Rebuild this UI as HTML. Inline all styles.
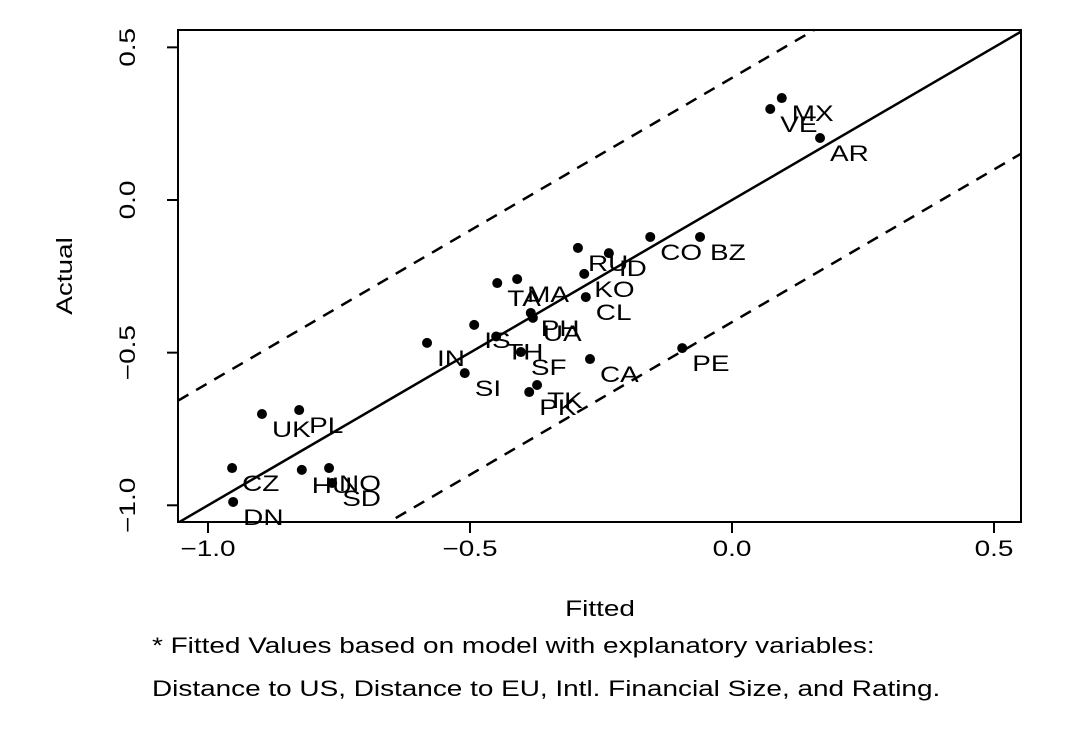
<!DOCTYPE html>
<html><head><meta charset="utf-8"><style>
body{margin:0;background:#fff}
svg{display:block;font-family:"Liberation Sans",Arial,sans-serif}
</style></head><body>
<svg id="chart" width="1084" height="732"></svg>
<script>
const countries=["MX","VE","AR","BZ","CO","RU","ID","KO","CL","TA","MA","PH","UA","IS","IN","TH","SF","SI","TK","PK","CA","PE","UK","PL","CZ","DN","HU","NO","SD"];
const fitted=[0.095,0.073,0.168,-0.061,-0.156,-0.294,-0.235,-0.282,-0.279,-0.448,-0.410,-0.384,-0.380,-0.492,-0.582,-0.450,-0.403,-0.510,-0.372,-0.387,-0.271,-0.095,-0.897,-0.826,-0.954,-0.952,-0.821,-0.769,-0.763];
const actual=[0.334,0.298,0.203,-0.121,-0.121,-0.157,-0.174,-0.242,-0.318,-0.272,-0.259,-0.370,-0.386,-0.409,-0.468,-0.447,-0.498,-0.567,-0.606,-0.629,-0.521,-0.485,-0.701,-0.688,-0.878,-0.989,-0.884,-0.878,-0.927];
const xTicks=[-1.0,-0.5,0.0,0.5];
const yTicks=[-1.0,-0.5,0.0,0.5];
const band=[0.4];

const NS="http://www.w3.org/2000/svg";
const svg=document.getElementById('chart');
const L=178,R=1021,T=30,B=522;
const SX=1.27;
const X=v=>732+v*524;
const Y=v=>200-v*305.3;
const xmin=(L-732)/524,xmax=(R-732)/524;
function mk(tag,attrs,parent){const e=document.createElementNS(NS,tag);for(const k in attrs)e.setAttribute(k,attrs[k]);(parent||svg).appendChild(e);return e;}

const defs=mk('defs',{});
const cp=mk('clipPath',{id:'clip'},defs);
mk('rect',{x:L,y:T,width:R-L,height:B-T},cp);

const box=mk('rect',{x:L,y:T,width:R-L,height:B-T,fill:'none',stroke:'#000','stroke-width':2});



const g=mk('g',{'clip-path':'url(#clip)'});
const fit=mk('line',{x1:X(xmin),y1:Y(xmin),x2:X(xmax),y2:Y(xmax),stroke:'#000','stroke-width':2.5},g);


[band[0],-band[0]].forEach((o,i)=>{
  const d=mk('line',{x1:X(xmin),y1:Y(xmin+o),x2:X(xmax),y2:Y(xmax+o),stroke:'#000','stroke-width':2.5,'stroke-dasharray':'12,9'},g);
  
  
});

countries.forEach((c,i)=>{
  const px=X(fitted[i]),py=Y(actual[i]);
  const p=mk('circle',{cx:px,cy:py,r:5,fill:'#000'});
  
  
  const t=mk('text',{x:0,y:0,'font-size':22,fill:'#000',transform:`translate(${px+10},${py+23}) scale(${SX},1)`});
  t.textContent=c;
  
  
});

xTicks.forEach(v=>{
  const l=mk('line',{x1:X(v),y1:B,x2:X(v),y2:B+11,stroke:'#000','stroke-width':2});
  
  
  const t=mk('text',{x:0,y:0,'font-size':22,'text-anchor':'middle',transform:`translate(${X(v)},556) scale(${SX},1)`});
  t.textContent=(v<0?'\u2212':'')+Math.abs(v).toFixed(1);
  
  
});
yTicks.forEach(v=>{
  const l=mk('line',{x1:L,y1:Y(v),x2:L-11,y2:Y(v),stroke:'#000','stroke-width':2});
  
  
  const t=mk('text',{x:0,y:0,'font-size':22,'text-anchor':'middle',transform:`translate(135,${Y(v)}) rotate(-90) scale(${SX},1)`});
  t.textContent=(v<0?'\u2212':'')+Math.abs(v).toFixed(1);
  
  
});

const xt=mk('text',{x:0,y:0,'font-size':22,'text-anchor':'middle',transform:`translate(600,616) scale(${SX},1)`});
xt.textContent='Fitted';


const yt=mk('text',{x:0,y:0,'font-size':22,'text-anchor':'middle',transform:`translate(72,276) rotate(-90) scale(${SX},1)`});
yt.textContent='Actual';


const f1=mk('text',{x:0,y:0,'font-size':22,transform:`translate(152,653) scale(${SX},1)`});
f1.textContent='* Fitted Values based on model with explanatory variables:';


const f2=mk('text',{x:0,y:0,'font-size':22,transform:`translate(152,696) scale(${SX},1)`});
f2.textContent='Distance to US, Distance to EU, Intl. Financial Size, and Rating.';


</script>
</body></html>
